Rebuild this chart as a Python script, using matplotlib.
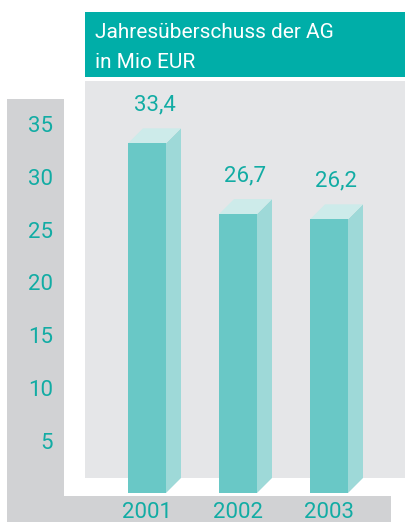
import matplotlib
matplotlib.use('Agg')
import matplotlib.pyplot as plt
from matplotlib.patches import Rectangle, Polygon
import matplotlib.transforms as mtransforms

years = ['2001', '2002', '2003']
values = [33.4, 26.7, 26.2]
value_labels = ['33,4', '26,7', '26,2']
yticks = [5, 10, 15, 20, 25, 30, 35]
title_lines = ['Jahresüberschuss der AG', 'in Mio EUR']

W, H = 406, 522
teal = '#00aea8'
text_teal = '#12aca4'
front_c = '#69c8c6'
side_c = '#9ed9d8'
top_c = '#cdebea'
panel_c = '#e5e6e8'
strip_c = '#d1d2d4'

plt.rcParams['font.family'] = ['Roboto', 'DejaVu Sans']

fig = plt.figure(figsize=(W / 100, H / 100), dpi=100)
ax = fig.add_axes([0, 0, 1, 1])
ax.axis('off')
ax.set_zorder(2)

# pixel geometry of the value axis
zero_px = 496.0
px_per_unit = 10.56
x0_px = 147.0
px_per_cat = 91.0
ax.set_xlim((0 - x0_px) / px_per_cat, (W - x0_px) / px_per_cat)
ax.set_ylim((zero_px - H) / px_per_unit, zero_px / px_per_unit)


def pix_rect(x, y, w, h, color):
    # rectangle given in pixels from top-left
    fig.patches.append(Rectangle((x / W, 1 - (y + h) / H), w / W, h / H,
                                 transform=fig.transFigure, color=color,
                                 lw=0, zorder=0))


pix_rect(85, 12, 321, 65, teal)
pix_rect(85, 81, 321, 397, panel_c)
pix_rect(7, 99, 57, 423, strip_c)
pix_rect(64, 496, 327, 26, strip_c)

for i, line in enumerate(title_lines):
    fig.text(95 / W, 1 - (38 + i * 30) / H, line, color='white',
             fontsize=15, fontweight='normal', ha='left', va='baseline',
             zorder=3)

bar_w = 38 / px_per_cat
dx = 15 / px_per_cat
dy = 15 / px_per_unit
base = 3 / px_per_unit  # small white gap above the bottom strip

for i, v in enumerate(values):
    xl = i - bar_w / 2
    xr = i + bar_w / 2
    ax.bar(i, v - base, bottom=base, width=bar_w, color=front_c, lw=0, zorder=3)
    ax.add_patch(Polygon([(xr, base), (xr + dx, base + dy), (xr + dx, v + dy), (xr, v)],
                         closed=True, color=side_c, lw=0, zorder=2))
    ax.add_patch(Polygon([(xl, v), (xl + dx, v + dy), (xr + dx, v + dy), (xr, v)],
                         closed=True, color=top_c, lw=0, zorder=2))
    ax.text(i + dx / 2, v + dy + 2.2, value_labels[i], color=text_teal,
            fontsize=16, fontweight='normal', ha='center', va='center')
    ax.text(i, (zero_px - 512) / px_per_unit, years[i], color=text_teal,
            fontsize=16, fontweight='normal', ha='center', va='center')

trans = mtransforms.blended_transform_factory(fig.transFigure, ax.transData)
for t in yticks:
    ax.text(53 / W, t, str(t), transform=trans, color=text_teal,
            fontsize=16, fontweight='normal', ha='right', va='center')

fig.savefig('out.png', dpi=100)
